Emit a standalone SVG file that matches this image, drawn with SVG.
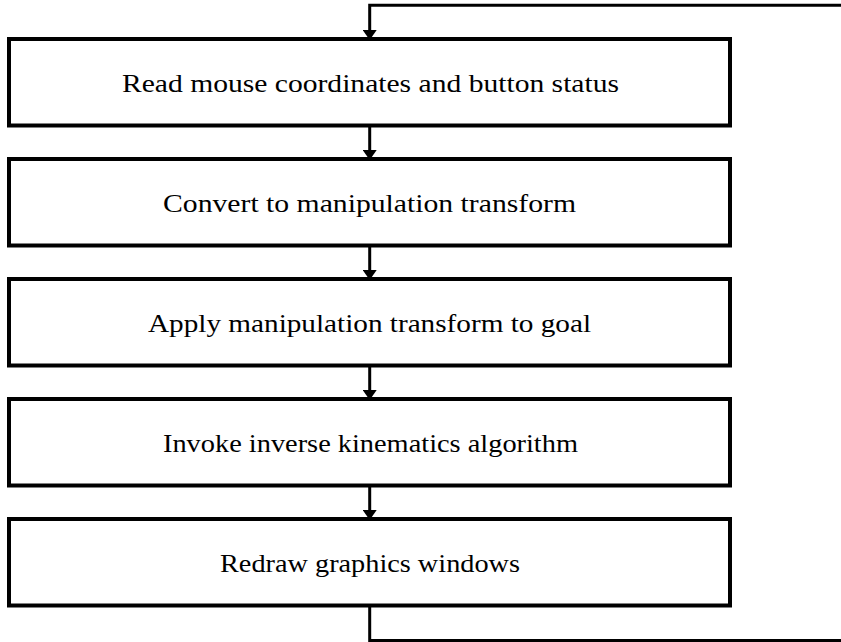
<svg xmlns="http://www.w3.org/2000/svg" width="841" height="642" viewBox="0 0 841 642">
<style>
.box{fill:#fff;stroke:#000;stroke-width:4}
.lbl{font-family:"Liberation Serif","DejaVu Serif",serif;font-size:26px;fill:#000;text-anchor:middle}
.con{fill:none;stroke:#000;stroke-width:3}
</style>
<defs>
<marker id="ah" markerWidth="10" markerHeight="14" refX="10" refY="7" orient="auto" markerUnits="userSpaceOnUse" viewBox="0 0 10 14">
<path d="M0,0 L10,7 L0,14 Z" fill="#000"/>
</marker>
</defs>
<g id="n1"><rect class="box" x="9" y="39" width="721" height="86.5"/><text class="lbl" x="370.5" y="92" textLength="497" lengthAdjust="spacingAndGlyphs">Read mouse coordinates and button status</text></g>
<g id="n2"><rect class="box" x="9" y="159" width="721" height="86.5"/><text class="lbl" x="369.5" y="212" textLength="413" lengthAdjust="spacingAndGlyphs">Convert to manipulation transform</text></g>
<g id="n3"><rect class="box" x="9" y="279" width="721" height="86.5"/><text class="lbl" x="369.5" y="332" textLength="443" lengthAdjust="spacingAndGlyphs">Apply manipulation transform to goal</text></g>
<g id="n4"><rect class="box" x="9" y="399" width="721" height="86.5"/><text class="lbl" x="370.5" y="452" textLength="415" lengthAdjust="spacingAndGlyphs">Invoke inverse kinematics algorithm</text></g>
<g id="n5"><rect class="box" x="9" y="519" width="721" height="86.5"/><text class="lbl" x="370" y="572" textLength="300" lengthAdjust="spacingAndGlyphs">Redraw graphics windows</text></g>
<g id="connectors">
<path class="con" d="M841,5.3 H369.7 V40" marker-end="url(#ah)"/>
<path class="con" d="M369.7,127 V160" marker-end="url(#ah)"/>
<path class="con" d="M369.7,247 V280" marker-end="url(#ah)"/>
<path class="con" d="M369.7,367 V400" marker-end="url(#ah)"/>
<path class="con" d="M369.7,487 V520" marker-end="url(#ah)"/>
<path class="con" d="M369.7,607 V640.5 H841"/>
</g>
</svg>
